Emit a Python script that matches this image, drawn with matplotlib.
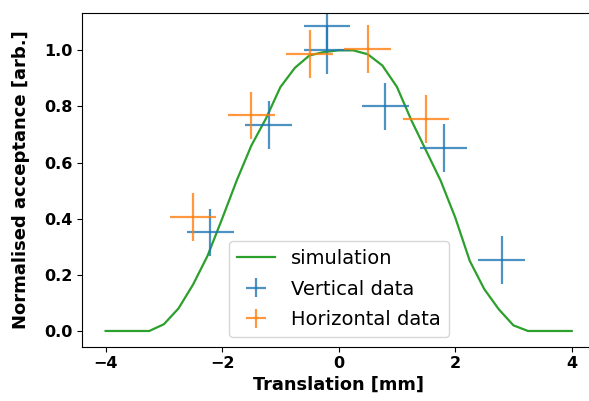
import numpy as np
import matplotlib
matplotlib.use("Agg")
import matplotlib.pyplot as plt

sim_x = [-4.0, -3.75, -3.5, -3.25, -3.0, -2.75, -2.5, -2.25, -2.0, -1.75, -1.5, -1.25,
         -1.0, -0.75, -0.5, -0.25, 0.0, 0.25, 0.5, 0.75, 1.0, 1.25, 1.5, 1.75,
         2.0, 2.25, 2.5, 2.75, 3.0, 3.25, 3.5, 3.75, 4.0]
sim_y = [0.0, 0.0, 0.0, 0.0, 0.024, 0.08, 0.165, 0.268, 0.40, 0.536, 0.66, 0.756,
         0.869, 0.938, 0.982, 0.994, 1.0, 1.0, 0.986, 0.946, 0.87, 0.75, 0.643, 0.536,
         0.405, 0.25, 0.149, 0.077, 0.02, 0.0, 0.0, 0.0, 0.0]

vert_x = [-2.2, -1.2, -0.2, -0.2, 0.8, 1.8, 2.8]
vert_y = [0.351, 0.735, 1.0, 1.085, 0.80, 0.651, 0.253]
vert_xerr = [0.4] * 7
vert_yerr = [0.085] * 7

hor_x = [-2.5, -1.5, -0.5, 0.5, 1.5]
hor_y = [0.405, 0.768, 0.986, 1.004, 0.756]
hor_xerr = [0.4] * 5
hor_yerr = [0.085] * 5

fig = plt.figure(figsize=(5.89, 4.01), dpi=100)
ax = fig.add_axes([82.3 / 589, 1 - 346.7 / 401, (595 - 82.3) / 589, (346.7 - 13.3) / 401])

ax.plot(sim_x, sim_y, color="tab:green", lw=1.6, label="simulation")
ax.errorbar(vert_x, vert_y, xerr=vert_xerr, yerr=vert_yerr, ls="none",
            color="tab:blue", alpha=0.8, elinewidth=1.6, label="Vertical data")
ax.errorbar(hor_x, hor_y, xerr=hor_xerr, yerr=hor_yerr, ls="none",
            color="tab:orange", alpha=0.8, elinewidth=1.6, label="Horizontal data")

ax.set_xlim(-4.4, 4.4)
ax.set_ylim(-0.056, 1.132)
ax.set_xticks([-4, -2, 0, 2, 4])
ax.set_yticks([0.0, 0.2, 0.4, 0.6, 0.8, 1.0])
ax.tick_params(labelsize=11.5)
for lab in ax.get_xticklabels() + ax.get_yticklabels():
    lab.set_fontweight("bold")
ax.set_xlabel("Translation [mm]", fontsize=12.8, fontweight="bold", labelpad=3)
ax.set_ylabel("Normalised acceptance [arb.]", fontsize=13, fontweight="bold", labelpad=10)
ax.legend(loc="lower center", fontsize=14, labelspacing=0.6)

fig.savefig("out.png", dpi=100)
